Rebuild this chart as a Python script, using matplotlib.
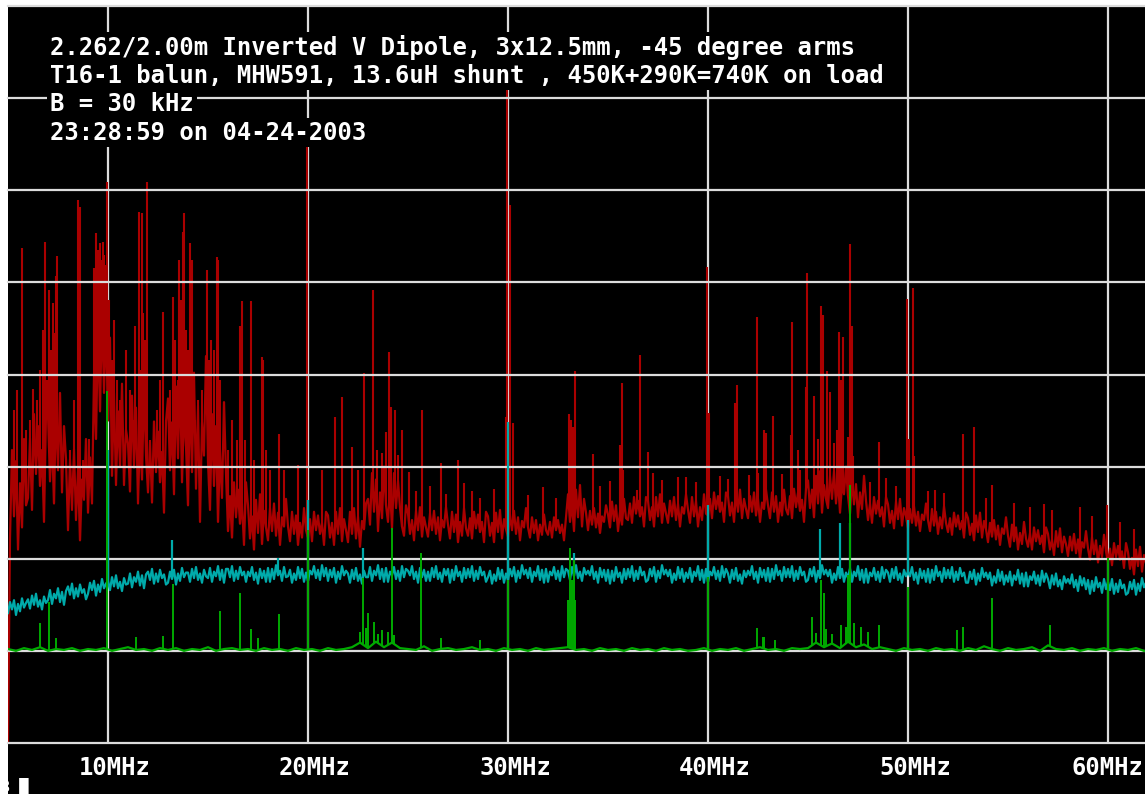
import numpy as np
import matplotlib
matplotlib.use("Agg")
import matplotlib.pyplot as plt
from matplotlib.patches import Rectangle

# ---------------- data (units: 10 per grid division) -------------
title_lines = [
    "2.262/2.00m Inverted V Dipole, 3x12.5mm, -45 degree arms",
    "T16-1 balun, MHW591, 13.6uH shunt , 450K+290K=740K on load",
    "B = 30 kHz",
    "23:28:59 on 04-24-2003",
]
tick_freqs = [10, 20, 30, 40, 50, 60]
tick_labels = ["10MHz", "20MHz", "30MHz", "40MHz", "50MHz", "60MHz"]
grid_levels = [0, 10, 20, 30, 40, 50, 60, 70, 80]

# red trace (antenna), one row per MHz, sampled every 0.1 MHz from 5.0 MHz
red_vals = [
    0, 22.2, 31.8, 24.6, 30.6, 21, 28.2, 23.4, 33, 25.8,
    26.6, 33.1, 25.3, 35.7, 29.2, 34.4, 27.9, 31.8, 24, 35.7,
    35.6, 28.4, 33.2, 26, 36.8, 29.6, 38, 27.2, 34.4, 30.8,
    23.1, 30.8, 25.3, 31.9, 24.2, 29.7, 22, 28.6, 26.4, 33,
    25, 31, 26, 40, 33, 45, 36, 47, 38, 46,
    35, 44, 29, 38, 28, 36, 30, 39, 28, 34,
    32.5, 27.3, 37.7, 29.9, 36.4, 26, 33.8, 28.6, 39, 31.2,
    27.2, 32.7, 26.1, 34.9, 29.4, 33.8, 28.3, 31.6, 25, 34.9,
    37.4, 29.6, 34.8, 27, 38.7, 30.9, 40, 28.3, 36.1, 32.2,
    25.8, 38.4, 29.4, 40.2, 27.6, 36.6, 24, 34.8, 31.2, 42,
    30.5, 25.3, 35.7, 27.9, 34.4, 24, 31.8, 26.6, 37, 29.2,
    23, 26.8, 22.3, 28.3, 24.5, 27.5, 23.8, 26, 21.5, 28.3,
    25.8, 22.2, 24.6, 21, 26.4, 22.8, 27, 21.6, 25.2, 23.4,
    22, 25.5, 23, 26, 22.5, 25, 21.5, 24.5, 23.5, 26.5,
    23.5, 21.9, 25.1, 22.7, 24.7, 21.5, 23.9, 22.3, 25.5, 23.1,
    22.3, 24.3, 21.9, 25.1, 23.1, 24.7, 22.7, 23.9, 21.5, 25.1,
    24.7, 22.3, 23.9, 21.5, 25.1, 22.7, 25.5, 21.9, 24.3, 23.1,
    21.8, 25.1, 22.7, 25.5, 22.2, 24.6, 21.3, 24.1, 23.2, 26,
    26.5, 23.7, 29.3, 25.1, 28.6, 23, 27.2, 24.4, 30, 25.8,
    24, 27.8, 23.3, 29.3, 25.5, 28.5, 25.5, 23.5, 22.5, 25.8,
    24.9, 22.7, 24.2, 22, 25.2, 23.1, 25.6, 22.4, 24.5, 23.4,
    22.4, 24.9, 23.1, 25.2, 22.7, 24.5, 22, 24.2, 23.4, 25.6,
    23.7, 22.2, 25.1, 22.9, 24.8, 21.8, 24, 22.5, 25.5, 23.3,
    22.5, 24.4, 22.2, 25.1, 23.3, 24.8, 22.9, 24, 21.8, 25.1,
    24.6, 22.5, 23.9, 21.8, 25, 22.9, 25.3, 22.2, 24.3, 23.2,
    22.4, 24.8, 23.1, 25.2, 22.7, 24.5, 22, 24.1, 23.4, 25.5,
    23.4, 22.3, 24.5, 22.8, 24.2, 22, 23.7, 22.6, 24.8, 23.1,
    22.6, 24, 22.3, 24.5, 23.1, 24.2, 22.8, 23.7, 22, 24.5,
    27, 24, 26, 23, 27.5, 24.5, 28, 23.5, 26.5, 25,
    23.1, 25.2, 23.7, 25.5, 23.4, 24.9, 22.8, 24.6, 24, 25.8,
    24.8, 23.4, 26.2, 24.1, 25.8, 23, 25.1, 23.7, 26.5, 24.4,
    24.2, 26, 23.9, 26.7, 24.9, 26.3, 24.6, 25.6, 23.5, 26.7,
    26.3, 24.2, 25.6, 23.5, 26.7, 24.6, 27, 23.9, 26, 24.9,
    23.9, 26.3, 24.6, 26.7, 24.2, 26, 23.5, 25.6, 24.9, 27,
    25.3, 23.9, 26.7, 24.6, 26.3, 23.5, 25.6, 24.2, 27, 24.9,
    24.7, 26.5, 24.4, 27.2, 25.4, 26.8, 25.1, 26.1, 24, 27.2,
    26.8, 24.7, 26.1, 24, 27.2, 25.1, 27.5, 24.4, 26.5, 25.4,
    24.4, 26.8, 25.1, 27.2, 24.7, 26.5, 24, 26.1, 25.4, 27.5,
    25.8, 24.4, 27.2, 25.1, 26.8, 24, 26.1, 24.7, 27.5, 25.4,
    24.8, 26.8, 24.4, 27.6, 25.6, 27.2, 25.2, 26.4, 24, 27.6,
    28.5, 25.5, 27.5, 24.5, 29, 26, 29.5, 25, 28, 26.5,
    25.5, 29, 26.5, 29.5, 26, 28.5, 25, 28, 27, 30,
    26.8, 24.9, 28.6, 25.9, 28.1, 24.5, 27.2, 25.4, 29, 26.3,
    24.2, 26, 23.9, 26.7, 24.9, 26.3, 24.6, 25.6, 23.5, 26.7,
    25.9, 23.9, 25.2, 23.3, 26.2, 24.3, 26.5, 23.6, 25.5, 24.6,
    23.3, 25.4, 23.9, 25.7, 23.6, 25.1, 23, 24.8, 24.2, 26,
    24.2, 23, 25.4, 23.6, 25.1, 22.7, 24.5, 23.3, 25.7, 23.9,
    22.9, 24.4, 22.6, 25, 23.5, 24.7, 23.2, 24.1, 22.3, 25,
    24.4, 22.6, 23.8, 22, 24.7, 22.9, 25, 22.3, 24.1, 23.2,
    21.8, 23.9, 22.4, 24.2, 22.1, 23.6, 21.5, 23.3, 22.7, 24.5,
    22.5, 21.3, 23.7, 21.9, 23.4, 21, 22.8, 21.6, 24, 22.2,
    21.3, 22.8, 21, 23.4, 21.9, 23.1, 21.6, 22.5, 20.7, 23.4,
    22.7, 21, 22.1, 20.4, 23, 21.3, 23.3, 20.7, 22.4, 21.6,
    20.3, 22.4, 20.9, 22.7, 20.6, 22.1, 20, 21.8, 21.2, 23,
    21.1, 19.9, 22.3, 20.5, 22, 19.6, 21.4, 20.2, 22.6, 20.8,
    19.6, 21.1, 19.3, 21.7, 20.2, 21.4, 19.9, 20.8, 19, 21.7,
    20.7, 18.9, 20.1, 18.3, 21, 19.2, 21.3, 18.6, 20.4, 19.5,
]
red_spike_f = [
    5.3, 5.45, 5.7, 5.9, 6.1, 6.25, 6.45, 6.6, 6.75, 6.85, 6.95, 7.05, 7.15, 7.25, 7.3,
    7.4, 7.45, 7.6, 7.8, 8.1, 8.3, 8.5, 8.55, 8.6, 8.75, 8.9, 9.05,
    9.3, 9.4, 9.45, 9.5, 9.55, 9.6, 9.65, 9.7, 9.75, 9.8, 9.85, 9.9, 9.95, 10.05,
    10.2, 10.3, 10.45, 10.6, 10.75, 10.9, 11.1, 11.25, 11.35, 11.55, 11.65, 11.7,
    11.75, 11.8, 11.85, 11.95, 12.1, 12.3, 12.45, 12.6, 12.75, 12.9, 13.1, 13.25,
    13.35, 13.5, 13.55, 13.65, 13.75, 13.8, 13.9, 14.0, 14.1, 14.2, 14.35, 14.5,
    14.7, 14.95, 15.05, 15.15, 15.3, 15.45, 15.5, 15.6, 15.8, 16.0, 16.2, 16.45,
    16.6, 16.7, 16.85, 17.15, 17.3, 17.7, 17.75, 17.9, 18.1, 18.55, 18.8, 19.5,
    19.95, 20.7, 21.35, 21.7, 22.2, 22.5, 22.8, 23.25, 23.45, 23.7, 23.9, 24.05,
    24.15, 24.35, 24.5, 24.7, 25.05, 25.7, 26.65, 27.5, 28.6, 29.9, 29.97, 30.1,
    30.25, 33.05, 33.15, 33.25, 33.35, 34.25, 35.6, 35.7, 35.75, 36.45, 36.6, 37.0,
    37.25, 38.5, 39.95, 40.05, 41.35, 41.45, 42.05, 42.45, 42.5, 42.8, 42.9, 43.25,
    44.15, 44.2, 44.5, 44.9, 44.95, 45.3, 45.5, 45.65, 45.75, 45.95, 46.1, 46.3,
    46.45, 46.55, 46.65, 46.75, 47.0, 47.1, 47.2, 47.25, 48.55, 49.95, 50.05, 50.25,
    50.3, 51.35, 52.75, 53.3, 54.2, 57.2, 58.6, 59.95,
    # short "hair" above the noise floor
    25.4, 26.1, 26.9, 27.8, 28.2, 29.3, 31.0, 31.75, 32.4, 34.6, 35.1, 37.7,
    38.9, 39.4, 40.6, 41.0, 43.7, 44.6, 48.1, 48.9, 49.4, 51.0, 51.8, 53.9,
    55.3, 56.1, 56.8, 59.2, 60.6, 61.3,
]
red_spike_top = [
    36.1, 38.3, 53.7, 34.0, 35.1, 38.4, 37.2, 40.5, 44.8, 54.4, 39.4, 49.2, 42.7, 47.8, 44.5,
    50.7, 52.9, 35.1, 32.9, 31.8, 37.2, 58.9, 33.6, 58.2, 30.7, 31.8, 33.0,
    51.6, 55.4, 48.1, 53.5, 45.9, 54.3, 51.3, 52.4, 54.4, 53.0, 49.2, 51.9, 60.9, 48.1,
    41.6, 45.9, 39.4, 37.2, 34.0, 42.7, 38.3, 35.1, 45.3, 57.6, 40.5, 57.5,
    46.7, 42.7, 43.7, 60.9, 32.9, 34.0, 36.1, 39.4, 46.8, 35.1, 38.3, 48.4,
    43.7, 39.4, 52.4, 48.1, 55.5, 57.5, 44.8, 42.7, 54.3, 52.4, 35.1, 37.2,
    38.3, 51.3, 41.6, 43.7, 42.7, 52.8, 52.4, 39.4, 34.0, 31.8, 35.1, 32.9,
    45.3, 48.0, 32.9, 48.0, 30.7, 41.9, 41.6, 31.8, 29.6, 33.5, 29.6, 30.2,
    66.2, 29.6, 35.4, 37.6, 32.1, 29.6, 40.2, 49.2, 31.8, 31.5, 33.8, 42.4,
    36.5, 36.1, 31.3, 34.0, 29.4, 36.1, 30.4, 30.7, 26.6, 35.4, 72.5, 58.4,
    34.7, 35.7, 35.1, 34.3, 40.4, 31.4, 32.3, 39.1, 29.6, 27.5, 42.1, 31.6,
    29.3, 28.9, 51.7, 35.8, 36.9, 38.9, 29.1, 46.2, 29.3, 34.0, 33.6, 35.5,
    33.4, 45.7, 31.8, 38.6, 51.0, 37.7, 33.0, 47.4, 46.5, 40.4, 38.1, 32.6,
    34.0, 44.6, 39.4, 44.1, 33.2, 54.2, 45.3, 31.2, 32.7, 48.2, 33.0, 49.4,
    31.2, 27.5, 33.5, 34.3, 28.0, 25.3, 25.6, 25.8,
    27.4, 27.9, 27.0, 28.2, 27.3, 27.6, 26.9, 27.8, 26.6, 27.9, 28.4, 28.6,
    28.9, 28.3, 29.0, 28.7, 29.2, 29.6, 28.3, 28.8, 27.9, 27.4, 27.1, 26.6,
    26.0, 25.6, 25.9, 24.6, 24.0, 23.2,
]

# cyan trace, one row per MHz, sampled every 0.1 MHz from 5.0 MHz
cyan_vals = [
    14.1, 15.3, 14.5, 15.5, 13.9, 15.1, 14.3, 15.7, 14.7, 15.2,
    15.6, 14.6, 16.0, 15.0, 16.2, 14.8, 15.5, 14.5, 15.9, 15.2,
    15.5, 16.6, 15.1, 16.2, 15.7, 16.8, 15.3, 16.4, 15.0, 16.5,
    17.0, 16.1, 17.3, 15.7, 16.8, 15.9, 17.2, 16.3, 16.7, 15.6,
    16.2, 17.4, 16.6, 17.6, 16.0, 17.2, 16.4, 17.8, 16.8, 17.3,
    17.6, 16.6, 18.0, 17.0, 18.2, 16.8, 17.5, 16.5, 17.9, 17.2,
    17.3, 18.4, 16.9, 18.0, 17.5, 18.6, 17.1, 18.2, 16.8, 18.3,
    18.6, 17.7, 18.9, 17.3, 18.4, 17.5, 18.8, 17.9, 18.3, 17.2,
    17.4, 18.6, 17.8, 18.8, 17.2, 18.4, 17.6, 19.0, 18.0, 18.5,
    18.5, 17.5, 18.9, 17.9, 19.1, 17.7, 18.4, 17.4, 18.8, 18.1,
    17.9, 19.0, 17.5, 18.6, 18.1, 19.2, 17.7, 18.8, 17.4, 18.9,
    18.9, 18.0, 19.2, 17.6, 18.7, 17.8, 19.1, 18.2, 18.6, 17.5,
    18.6, 18.1, 19.1, 17.7, 18.5, 17.3, 18.9, 17.9, 18.7, 17.5,
    19.0, 17.5, 18.9, 17.8, 19.3, 18.2, 18.7, 17.6, 19.1, 18.0,
    18.1, 18.8, 17.4, 18.4, 17.7, 19.1, 17.9, 18.9, 17.5, 18.5,
    17.6, 18.7, 18.3, 19.2, 17.9, 18.8, 17.7, 19.3, 18.1, 19.0,
    17.6, 18.8, 18.0, 19.0, 17.4, 18.6, 17.8, 19.2, 18.2, 18.7,
    18.4, 17.4, 18.8, 17.8, 19.0, 17.6, 18.3, 17.3, 18.7, 18.0,
    18.0, 19.1, 17.6, 18.7, 18.2, 19.3, 17.8, 18.9, 17.5, 19.0,
    17.5, 18.6, 18.2, 19.1, 17.8, 18.7, 17.6, 19.2, 18.0, 18.9,
    18.7, 18.2, 19.2, 17.8, 18.6, 17.4, 19.0, 18.0, 18.8, 17.6,
    18.6, 17.6, 19.0, 18.0, 19.2, 17.8, 18.5, 17.5, 18.9, 18.2,
    18.9, 17.4, 18.8, 17.7, 19.2, 18.1, 18.6, 17.5, 19.0, 17.9,
    18.9, 18.0, 19.2, 17.6, 18.7, 17.8, 19.1, 18.2, 18.6, 17.5,
    18.0, 18.7, 17.3, 18.3, 17.6, 19.0, 17.8, 18.8, 17.4, 18.4,
    17.7, 18.9, 18.1, 19.1, 17.5, 18.7, 17.9, 19.3, 18.3, 18.8,
    17.9, 19.0, 17.5, 18.6, 18.1, 19.2, 17.7, 18.8, 17.4, 18.9,
    17.5, 18.6, 18.2, 19.1, 17.8, 18.7, 17.6, 19.2, 18.0, 18.9,
    18.7, 17.7, 19.1, 18.1, 19.3, 17.9, 18.6, 17.6, 19.0, 18.3,
    18.7, 18.2, 19.2, 17.8, 18.6, 17.4, 19.0, 18.0, 18.8, 17.6,
    18.8, 17.3, 18.7, 17.6, 19.1, 18.0, 18.5, 17.4, 18.9, 17.8,
    18.9, 18.0, 19.2, 17.6, 18.7, 17.8, 19.1, 18.2, 18.6, 17.5,
    17.7, 18.9, 18.1, 19.1, 17.5, 18.7, 17.9, 19.3, 18.3, 18.8,
    18.1, 18.8, 17.4, 18.4, 17.7, 19.1, 17.9, 18.9, 17.5, 18.5,
    17.9, 19.0, 17.5, 18.6, 18.1, 19.2, 17.7, 18.8, 17.4, 18.9,
    17.5, 18.6, 18.2, 19.1, 17.8, 18.7, 17.6, 19.2, 18.0, 18.9,
    18.4, 17.4, 18.8, 17.8, 19.0, 17.6, 18.3, 17.3, 18.7, 18.0,
    18.7, 18.2, 19.2, 17.8, 18.6, 17.4, 19.0, 18.0, 18.8, 17.6,
    19.0, 17.5, 18.9, 17.8, 19.3, 18.2, 18.7, 17.6, 19.1, 18.0,
    18.9, 18.0, 19.2, 17.6, 18.7, 17.8, 19.1, 18.2, 18.6, 17.5,
    17.7, 18.9, 18.1, 19.1, 17.5, 18.7, 17.9, 19.3, 18.3, 18.8,
    18.1, 18.8, 17.4, 18.4, 17.7, 19.1, 17.9, 18.9, 17.5, 18.5,
    17.9, 19.0, 17.5, 18.6, 18.1, 19.2, 17.7, 18.8, 17.4, 18.9,
    17.4, 18.5, 18.1, 19.0, 17.7, 18.6, 17.5, 19.1, 17.9, 18.8,
    18.5, 17.5, 18.9, 17.9, 19.1, 17.7, 18.4, 17.4, 18.8, 18.1,
    18.6, 18.1, 19.1, 17.7, 18.5, 17.3, 18.9, 17.9, 18.7, 17.5,
    18.9, 17.4, 18.8, 17.7, 19.2, 18.1, 18.6, 17.5, 19.0, 17.9,
    18.8, 17.9, 19.1, 17.5, 18.6, 17.7, 19.0, 18.1, 18.5, 17.4,
    17.4, 18.6, 17.8, 18.8, 17.2, 18.4, 17.6, 19.0, 18.0, 18.5,
    17.8, 18.5, 17.1, 18.1, 17.4, 18.8, 17.6, 18.6, 17.2, 18.2,
    17.5, 18.6, 17.1, 18.2, 17.7, 18.8, 17.3, 18.4, 17.0, 18.5,
    17.0, 18.1, 17.7, 18.6, 17.3, 18.2, 17.1, 18.7, 17.5, 18.4,
    17.8, 16.8, 18.2, 17.2, 18.4, 17.0, 17.7, 16.7, 18.1, 17.4,
    17.8, 17.3, 18.3, 16.9, 17.7, 16.5, 18.1, 17.1, 17.9, 16.7,
    17.7, 16.2, 17.6, 16.5, 18.0, 16.9, 17.4, 16.3, 17.8, 16.7,
    17.5, 16.6, 17.8, 16.2, 17.3, 16.4, 17.7, 16.8, 17.2, 16.1,
    16.3, 17.5, 16.7, 17.7, 16.1, 17.3, 16.5, 17.9, 16.9, 17.4,
]
cyan_spike_f = [10.0, 13.2, 18.5, 20.0, 22.75, 30.0, 33.3, 40.0, 45.6, 46.6, 47.1, 50.0]
cyan_spike_top = [31.8, 22.0, 20.1, 26.4, 21.2, 34.8, 20.6, 25.8, 23.2, 23.9, 23.9, 24.2]

# green trace, sampled every 0.4 MHz from 5.0 MHz
green_vals = [
    10.2, 10.0, 10.3, 10.1, 10.4, 10.0, 10.2, 10.1, 10.3, 10.0,
    10.2, 10.1, 10.3, 10.0, 10.2, 10.4, 10.1, 10.2, 10.0, 10.3,
    10.1, 10.3, 10.0, 10.2, 10.1, 10.4, 10.0, 10.2, 10.3, 10.1,
    10.2, 10.0, 10.3, 10.1, 10.2, 10.0, 10.3, 10.1, 10.2, 10.0,
    10.3, 10.1, 10.2, 10.4, 10.9, 10.3, 11.0, 10.4, 10.9, 10.3,
    10.2, 10.1, 10.5, 10.0, 10.2, 10.3, 10.1, 10.2, 10.4, 10.1,
    10.2, 10.0, 10.3, 10.1, 10.2, 10.0, 10.3, 10.1, 10.2, 10.3,
    10.4, 10.1, 10.2, 10.0, 10.3, 10.1, 10.2, 10.0, 10.3, 10.1,
    10.2, 10.0, 10.3, 10.1, 10.2, 10.0, 10.1, 10.3, 10.0, 10.2,
    10.1, 10.3, 10.0, 10.2, 10.4, 10.1, 10.2, 10.0, 10.3, 10.2,
    10.3, 10.9, 10.4, 10.8, 10.3, 11.0, 10.4, 10.7, 10.2, 10.4,
    10.2, 10.0, 10.3, 10.1, 10.2, 10.0, 10.3, 10.1, 10.2, 10.0,
    10.3, 10.1, 10.5, 10.2, 10.0, 10.3, 10.1, 10.2, 10.4, 10.0,
    10.6, 10.2, 10.1, 10.3, 10.0, 10.2, 10.1, 10.3, 10.0, 10.2,
    10.1, 10.3, 10.0,
]
green_spike_f = [
    6.6, 7.05, 7.4, 9.95, 11.4, 12.75, 13.25, 15.6, 16.6, 17.15, 17.5, 18.55, 20.0,
    22.6, 22.75, 22.9, 23.0, 23.3, 23.5, 23.7, 24.0, 24.2, 24.3, 25.65, 26.65, 28.6,
    30.0, 33.0, 33.1, 33.2, 33.3, 33.35, 40.0, 42.45, 42.75, 42.8, 43.35, 45.2, 45.4,
    45.65, 45.8, 45.9, 46.2, 46.65, 46.9, 47.0, 47.1, 47.3, 47.65, 48.0, 48.55,
    50.0, 52.45, 52.75, 54.2, 57.1, 60.0,
]
green_spike_top = [
    13.0, 15.3, 11.4, 38.2, 11.5, 11.6, 17.3, 14.3, 16.3, 12.4, 11.4, 14.0, 23.1,
    12.0, 17.9, 12.5, 14.1, 13.1, 11.8, 12.3, 12.0, 23.3, 11.7, 20.6, 11.4, 11.2,
    17.7, 15.5, 21.2, 17.7, 19.9, 15.5, 18.0, 12.5, 11.5, 11.5, 11.2, 13.7, 11.9,
    17.7, 16.3, 12.4, 11.8, 12.8, 12.6, 18.2, 28.0, 13.0, 12.6, 12.0, 12.8,
    16.9, 12.3, 12.6, 15.7, 12.8, 20.1,
]

# ---------------- drawing -------------------------------------------------------------
RED, CYAN, GREEN, GRID = "#AA0000", "#00AAAA", "#00AA00", "#DCDCDC"
W, H = 1145, 794
fig = plt.figure(figsize=(W / 100, H / 100), dpi=100, facecolor="white")
fig.patches.append(Rectangle((8 / W, 0), 1 - 8 / W, 1 - 6 / H, transform=fig.transFigure,
                             facecolor="black", edgecolor="none", zorder=-5))
ax = fig.add_axes([8 / W, 51 / H, 1 - 8 / W, 737 / H])
ax.set_facecolor("black")
ax.set_xlim(5, 5 + (W - 8) / 20)
ax.set_ylim(0, 80)
ax.axis("off")

red_f = 5.0 + 0.1 * np.arange(len(red_vals))
cyan_f = 5.0 + 0.1 * np.arange(len(cyan_vals))
green_f = 5.0 + 0.4 * np.arange(len(green_vals))

# vertical grid lines sit under the traces, horizontal ones over the red trace
for f in tick_freqs:
    ax.axvline(f, color=GRID, lw=1.6, zorder=1.5)

# spikes rise from the noise band of their own trace
red_base = np.interp(red_spike_f, red_f, red_vals)
ax.vlines(red_spike_f, red_base, red_spike_top, color=RED, lw=1.5, zorder=2)
ax.plot(red_f, red_vals, color=RED, lw=1.6, zorder=2)

for lv in grid_levels:
    ax.axhline(lv, color=GRID, lw=1.6, zorder=3, clip_on=False)

cyan_base = np.interp(cyan_spike_f, cyan_f, cyan_vals)
ax.vlines(cyan_spike_f, cyan_base, cyan_spike_top, color=CYAN, lw=1.6, zorder=4)
ax.plot(cyan_f, cyan_vals, color=CYAN, lw=1.6, zorder=4)
green_base = np.interp(green_spike_f, green_f, green_vals)
ax.vlines(green_spike_f, green_base, green_spike_top, color=GREEN, lw=1.4, zorder=5)
ax.plot(green_f, green_vals, color=GREEN, lw=1.6, zorder=5)

mono = {"family": "DejaVu Sans Mono", "weight": "bold", "size": 17.2}
for i, line in enumerate(title_lines):
    ypx = 47 + i * 28.5
    fig.text(50 / W, 1 - ypx / H, line, color="white", ha="left", va="center",
             fontdict=mono, zorder=10,
             bbox=dict(facecolor="black", edgecolor="none", boxstyle="square,pad=0.12"))

for f, lab in zip(tick_freqs, tick_labels):
    xpx = 8 + (f - 5) * 20 + 7
    ha = "center"
    if xpx + 36 > W:
        xpx, ha = W - 2, "right"
    fig.text(xpx / W, 1 - 768 / H, lab, color="white", ha=ha, va="center", fontdict=mono)

fig.text(1 / W, 1 - 786 / H, "3 \u2588", color="white", ha="left", va="center",
         family="DejaVu Sans Mono", weight="bold", size=11)

fig.savefig("out.png", dpi=100, facecolor=fig.get_facecolor())
